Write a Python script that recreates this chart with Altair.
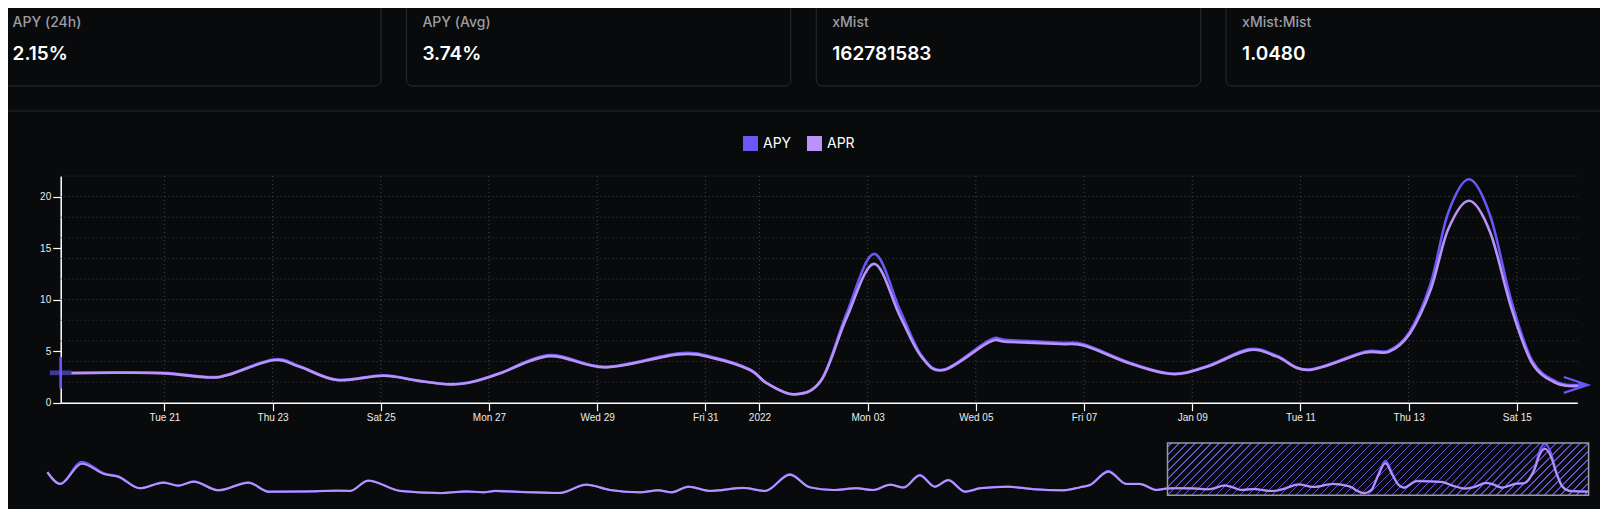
import altair as alt
import pandas as pd

# ---------------- data ----------------
card_titles = ["APY (24h)", "APY (Avg)", "xMist", "xMist:Mist"]
card_values = ["2.15%", "3.74%", "162781583", "1.0480"]

series_names = ["APY", "APR"]

main_dates = [
    "2021-12-19T02:00", "2021-12-20T02:00", "2021-12-21T00:00", "2021-12-21T19:00",
    "2021-12-22T04:00", "2021-12-23T00:20", "2021-12-23T12:00", "2021-12-24T04:30",
    "2021-12-25T01:10", "2021-12-25T16:00", "2021-12-26T06:45", "2021-12-26T17:00",
    "2021-12-27T05:00", "2021-12-28T03:00", "2021-12-29T03:40", "2021-12-30T12:10",
    "2021-12-31T04:00", "2021-12-31T19:50", "2022-01-01T03:20", "2022-01-01T15:36",
    "2022-01-02T03:30", "2022-01-02T14:35", "2022-01-03T02:47", "2022-01-03T14:20",
    "2022-01-03T23:50", "2022-01-04T09:50", "2022-01-05T06:00", "2022-01-05T14:00",
    "2022-01-06T13:30", "2022-01-07T00:15", "2022-01-07T20:25", "2022-01-08T15:00",
    "2022-01-09T06:30", "2022-01-10T01:10", "2022-01-10T13:30", "2022-01-11T03:30",
    "2022-01-12T04:20", "2022-01-12T15:10", "2022-01-13T00:30", "2022-01-13T09:50",
    "2022-01-13T17:30", "2022-01-14T02:53", "2022-01-14T12:15", "2022-01-14T21:25",
    "2022-01-15T06:45", "2022-01-15T17:30", "2022-01-16T02:50",
]
main_apy = [
    2.90, 2.95, 2.90, 2.50, 2.72, 4.20, 3.55, 2.23, 2.66, 2.17, 1.80, 2.06,
    2.89, 4.62, 3.49, 4.80, 4.39, 3.22, 1.90, 0.82, 2.23, 8.60, 14.44, 9.00,
    4.60, 3.22, 6.07, 6.07, 5.82, 5.65, 3.87, 2.82, 3.55, 5.20, 4.57, 3.22,
    4.95, 5.05, 6.90, 11.60, 18.40, 21.68, 18.10, 10.00, 4.10, 2.05, 1.72,
]
main_apr = [
    2.85, 2.90, 2.85, 2.46, 2.68, 4.12, 3.48, 2.20, 2.62, 2.14, 1.78, 2.04,
    2.85, 4.52, 3.43, 4.69, 4.30, 3.17, 1.88, 0.81, 2.20, 8.20, 13.47, 8.40,
    4.47, 3.17, 5.88, 5.90, 5.69, 5.52, 3.80, 2.78, 3.49, 5.10, 4.47, 3.17,
    4.85, 4.94, 6.70, 11.00, 16.80, 19.60, 16.50, 9.30, 3.85, 1.90, 1.62,
]

nav_early_dates = [
    "2021-10-02T20:00", "2021-10-03T17:00", "2021-10-05T05:00", "2021-10-06T19:00",
    "2021-10-07T17:00", "2021-10-09T05:00", "2021-10-10T20:00", "2021-10-11T21:00",
    "2021-10-12T22:00", "2021-10-14T15:00", "2021-10-16T17:00", "2021-10-18T02:00",
    "2021-10-20T17:00", "2021-10-22T19:00", "2021-10-23T17:00", "2021-10-24T23:00",
    "2021-10-27T04:00", "2021-10-29T22:00", "2021-10-31T18:00", "2021-11-01T22:00",
    "2021-11-02T17:00", "2021-11-04T10:00", "2021-11-07T04:00", "2021-11-09T00:00",
    "2021-11-10T15:00", "2021-11-12T17:00", "2021-11-13T23:00", "2021-11-14T21:00",
    "2021-11-16T01:00", "2021-11-17T13:00", "2021-11-19T20:00", "2021-11-21T08:00",
    "2021-11-23T01:00", "2021-11-24T10:00", "2021-11-26T01:00", "2021-11-27T15:00",
    "2021-11-28T19:00", "2021-11-29T23:00", "2021-11-30T21:00", "2021-12-02T00:00",
    "2021-12-03T01:00", "2021-12-03T23:00", "2021-12-05T03:00", "2021-12-06T04:00",
    "2021-12-08T02:00", "2021-12-09T20:00", "2021-12-11T21:00", "2021-12-13T01:00",
    "2021-12-13T18:00", "2021-12-15T00:00", "2021-12-16T06:00", "2021-12-17T04:00",
    "2021-12-18T08:00",
]
nav_early_apy = [
    9.8, 4.8, 14.1, 9.1, 8.0, 2.95, 5.4, 4.05, 5.8, 2.1, 5.4, 1.5,
    1.6, 1.9, 1.8, 6.2, 1.8, 0.9, 1.6, 1.2, 1.8, 1.4, 0.95, 4.5,
    2.2, 1.2, 2.05, 1.2, 3.65, 1.8, 3.05, 1.8, 8.9, 3.35, 2.2, 2.95,
    2.2, 4.5, 3.25, 8.6, 3.65, 6.5, 1.5, 2.95, 3.65, 2.55, 2.05, 3.35,
    4.4, 10.3, 4.8, 4.8, 2.25,
]
nav_early_apr = [
    9.6, 4.7, 13.3, 8.8, 7.8, 2.9, 5.3, 4.0, 5.7, 2.05, 5.3, 1.5,
    1.6, 1.9, 1.8, 6.1, 1.8, 0.9, 1.6, 1.2, 1.8, 1.4, 0.95, 4.4,
    2.2, 1.2, 2.05, 1.2, 3.6, 1.8, 3.0, 1.8, 8.6, 3.3, 2.2, 2.9,
    2.2, 4.4, 3.2, 8.3, 3.6, 6.3, 1.5, 2.9, 3.6, 2.5, 2.05, 3.3,
    4.3, 9.9, 4.7, 4.7, 2.2,
]
nav_tail_dates = ["2022-01-17T03:00"]
nav_tail_apy = [1.60]
nav_tail_apr = [1.50]

tick_dates = [
    "2021-12-21T00:00", "2021-12-23T00:00", "2021-12-25T00:00", "2021-12-27T00:00",
    "2021-12-29T00:00", "2021-12-31T00:00", "2022-01-01T00:00", "2022-01-03T00:00",
    "2022-01-05T00:00", "2022-01-07T00:00", "2022-01-09T00:00", "2022-01-11T00:00",
    "2022-01-13T00:00", "2022-01-15T00:00",
]
tick_labels = [
    "Tue 21", "Thu 23", "Sat 25", "Mon 27", "Wed 29", "Fri 31", "2022",
    "Mon 03", "Wed 05", "Fri 07", "Jan 09", "Tue 11", "Thu 13", "Sat 15",
]
y_tick_values = [0, 5, 10, 15, 20]
y_grid_values = [2, 4, 6, 8, 10, 12, 14, 16, 18, 20, 22]
y_domain = [0, 22]

# ---------------- style / layout ----------------
W, H = 1592, 501
BG = "#090a0c"
CARD_BORDER = "#2b2c30"
APY_C = "#6a57f7"
APR_C = "#b993f7"
GRID_C = "#45454b"
AX_C = "#ffffff"
LBL_C = "#ececec"
HATCH_C = "rgba(108,88,222,0.9)"
HATCH_T = "rgba(108,88,222,0)"

MX0, MX1 = 52.7, 1569.3      # main plot x range
MY0, MY1 = 394.7, 168.0      # main plot y range (bottom, top)
NX0, NX1 = 39.4, 1580.6      # navigator x range
NY0, NY1 = 487.2, 435.0      # navigator y range


def dt(s):
    d, t = s.split("T")
    y, m, dd = (int(v) for v in d.split("-"))
    hh, mm = (int(v) for v in t.split(":")[:2])
    return alt.DateTime(year=y, month=m, date=dd, hours=hh, minutes=mm)


def iso(s):
    return s + ":00"


# ---------------- tables ----------------
cards_df = pd.DataFrame({"title": card_titles, "value": card_values})

n = len(main_dates)
main_df = pd.DataFrame({
    "t": [iso(d) for d in main_dates] * 2,
    "v": main_apy + main_apr,
    "s": [series_names[0]] * n + [series_names[1]] * n,
})

nav_dates = nav_early_dates + main_dates + nav_tail_dates
nav_df = pd.DataFrame({
    "t": [iso(d) for d in nav_dates],
    "apy": nav_early_apy + main_apy + nav_tail_apy,
    "apr": nav_early_apr + main_apr + nav_tail_apr,
})

start_df = pd.DataFrame({"t": [iso(main_dates[0])], "v": [main_apy[0]]})
end_df = pd.DataFrame({"t": [iso(main_dates[-1])], "v": [main_apy[-1]]})
ticks_df = pd.DataFrame({"t": [iso(d) for d in tick_dates]})
ygrid_df = pd.DataFrame({"g": y_grid_values})
window_df = pd.DataFrame({
    "t0": [iso(main_dates[0])], "t1": [iso(nav_dates[-1])],
    "v0": [y_domain[0]], "v1": [y_domain[1]],
})
one_df = pd.DataFrame({"k": [0]})

# ---------------- scales ----------------
card_scale = alt.Scale(type="band", domain=card_titles, range=[-11.4, 1602.5],
                       paddingInner=0.0621, paddingOuter=0)
xs = alt.Scale(domain=[dt(main_dates[0]), dt(main_dates[-1])], range=[MX0, MX1], nice=False)
ys = alt.Scale(domain=y_domain, range=[MY0, MY1], nice=False)
xn = alt.Scale(domain=[dt(nav_dates[0]), dt(nav_dates[-1])], range=[NX0, NX1], nice=False)
yn = alt.Scale(domain=y_domain, range=[NY0, NY1], nice=False)

label_expr = "''"
for d, lab in reversed(list(zip(tick_dates, tick_labels))):
    label_expr = f"(timeFormat(datum.value, '%Y-%m-%d') == '{d[:10]}' ? '{lab}' : {label_expr})"

x_axis = alt.Axis(
    values=[dt(d) for d in tick_dates], labelExpr=label_expr, orient="bottom",
    offset=-(H - MY0), title=None, grid=False,
    domainColor=AX_C, domainWidth=1.5, tickColor=AX_C, tickWidth=1.2, tickSize=8,
    labelColor=LBL_C, labelFont="Arial", labelFontSize=10, labelPadding=2,
    labelOverlap=False, labelFlush=False,
)
y_axis = alt.Axis(
    values=y_tick_values, orient="left", offset=-MX0, title=None, grid=False,
    domainColor=AX_C, domainWidth=1.5, tickColor=AX_C, tickWidth=1.2, tickSize=8,
    labelColor=LBL_C, labelFont="Arial", labelFontSize=10, labelPadding=2,
)

# ---------------- layers ----------------
cards = alt.Chart(cards_df).mark_rect(
    fill=BG, stroke=CARD_BORDER, strokeWidth=1, cornerRadius=6
).encode(
    x=alt.X("title:N", scale=card_scale, axis=None),
    y=alt.value(-30), y2=alt.value(78),
)
card_title_text = alt.Chart(cards_df).mark_text(
    align="left", baseline="middle", dx=16, font="Inter", fontSize=14, fontWeight=500,
    color="#9d9da2"
).encode(
    x=alt.X("title:N", scale=card_scale, axis=None, bandPosition=0),
    y=alt.value(14.7), text="title:N",
)
card_value_text = alt.Chart(cards_df).mark_text(
    align="left", baseline="middle", dx=16, font="Inter", fontSize=19, fontWeight=600,
    color="#ffffff"
).encode(
    x=alt.X("title:N", scale=card_scale, axis=None, bandPosition=0),
    y=alt.value(46.3), text="value:N",
)
divider = alt.Chart(one_df).mark_rule(color="#25262a", strokeWidth=1).encode(
    y=alt.value(103), x=alt.value(0), x2=alt.value(W)
)

ygrid = alt.Chart(ygrid_df).mark_rule(color=GRID_C, strokeWidth=1, strokeDash=[1, 3]).encode(
    y=alt.Y("g:Q", scale=ys, axis=None), x=alt.value(MX0), x2=alt.value(MX1)
)
xgrid = alt.Chart(ticks_df).mark_rule(color=GRID_C, strokeWidth=1, strokeDash=[1, 3]).encode(
    x=alt.X("t:T", scale=xs, axis=None), y=alt.value(MY1), y2=alt.value(MY0)
)

main_lines = alt.Chart(main_df).mark_line(
    interpolate="cardinal", tension=0, strokeWidth=2.6, strokeCap="round", strokeJoin="round"
).encode(
    x=alt.X("t:T", scale=xs, axis=x_axis),
    y=alt.Y("v:Q", scale=ys, axis=y_axis),
    color=alt.Color(
        "s:N",
        scale=alt.Scale(domain=series_names, range=[APY_C, APR_C]),
        legend=alt.Legend(
            title=None, orient="none", legendX=735, legendY=128, direction="horizontal",
            symbolType="square", symbolSize=9, symbolStrokeWidth=12, symbolOpacity=1,
            labelFont="Inter", labelFontSize=14, labelColor="#ffffff", labelOffset=5,
            columnPadding=-3, padding=0,
        ),
    ),
    order=alt.Order("s:N", sort="descending"),
)

start_h = alt.Chart(start_df).mark_point(
    shape="M-1,0L1,0", size=471, strokeWidth=4.7, color="#3e3a9c", filled=False, opacity=1
).encode(x=alt.X("t:T", scale=xs, axis=None), y=alt.Y("v:Q", scale=ys, axis=None))
start_v = alt.Chart(start_df).mark_point(
    shape="M0,-1L0,1", size=1005, strokeWidth=2.7, color=APY_C, filled=False, opacity=1
).encode(x=alt.X("t:T", scale=xs, axis=None), y=alt.Y("v:Q", scale=ys, axis=None))
end_arrow = alt.Chart(end_df).mark_point(
    shape="M-1,-0.33L0,0L-1,0.33", size=2304, strokeWidth=2.2, color=APY_C,
    filled=False, opacity=1, xOffset=10.5
).encode(x=alt.X("t:T", scale=xs, axis=None), y=alt.Y("v:Q", scale=ys, axis=None))
end_tip = alt.Chart(end_df).mark_point(
    shape="M-0.4,-0.15L0,0L-0.4,0.15Z", size=2304, color=APY_C,
    filled=True, opacity=1, xOffset=10.5
).encode(x=alt.X("t:T", scale=xs, axis=None), y=alt.Y("v:Q", scale=ys, axis=None))

# navigator
N_STRIPES = 64
stops = []
for k in range(N_STRIPES):
    base = k / N_STRIPES
    p = 1 / N_STRIPES
    stops += [
        alt.GradientStop(color=HATCH_T, offset=base + 0.40 * p),
        alt.GradientStop(color=HATCH_C, offset=base + 0.42 * p),
        alt.GradientStop(color=HATCH_C, offset=base + 0.58 * p),
        alt.GradientStop(color=HATCH_T, offset=base + 0.60 * p),
    ]
hatch = alt.LinearGradient(gradient="linear", stops=stops, x1=0, y1=0, x2=1.2, y2=0.1484)

window_fill = alt.Chart(window_df).mark_rect(fill=hatch).encode(
    x=alt.X("t0:T", scale=xn, axis=None), x2="t1:T",
    y=alt.Y("v0:Q", scale=yn, axis=None), y2="v1:Q",
)
nav_apy = alt.Chart(nav_df).mark_line(
    interpolate="monotone", strokeWidth=2.2, color=APY_C, strokeJoin="round"
).encode(x=alt.X("t:T", scale=xn, axis=None), y=alt.Y("apy:Q", scale=yn, axis=None))
nav_apr = alt.Chart(nav_df).mark_line(
    interpolate="monotone", strokeWidth=2.0, color=APR_C, strokeJoin="round"
).encode(x=alt.X("t:T", scale=xn, axis=None), y=alt.Y("apr:Q", scale=yn, axis=None))
window_border = alt.Chart(window_df).mark_rect(
    fillOpacity=0, stroke="#9c9ca0", strokeWidth=1.5
).encode(
    x=alt.X("t0:T", scale=xn, axis=None), x2="t1:T",
    y=alt.Y("v0:Q", scale=yn, axis=None), y2="v1:Q",
)

chart = alt.layer(
    cards, card_title_text, card_value_text, divider,
    ygrid, xgrid, main_lines, start_h, start_v, end_arrow, end_tip,
    window_fill, nav_apy, nav_apr, window_border,
).resolve_scale(
    x="independent", y="independent"
).properties(
    width=W, height=H, autosize="none", padding=0, background=BG
).configure_view(strokeWidth=0)

chart.save("out.html", embed_options={"renderer": "svg", "actions": False})
